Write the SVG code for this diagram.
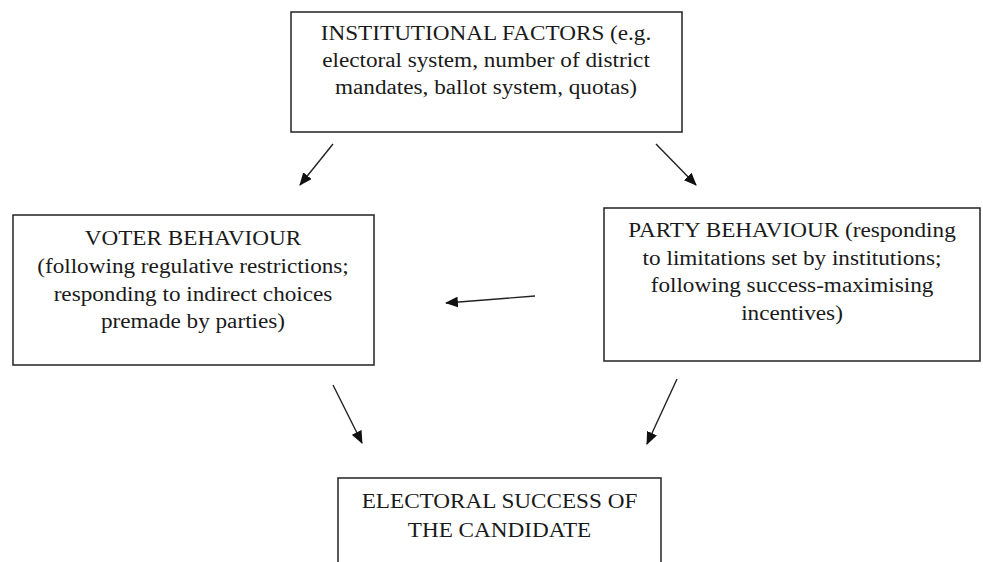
<svg xmlns="http://www.w3.org/2000/svg" width="983" height="562" viewBox="0 0 983 562">
<style>
.box{fill:#fff;stroke:#222;stroke-width:1.5}
.t{font-family:"Liberation Serif","Times New Roman",serif;font-size:20px;fill:#1a1a1a;text-anchor:middle}
.c{stroke:#222;stroke-width:1.4;fill:none}
</style>
<defs>
<marker id="ah" viewBox="0 0 12 10" refX="11" refY="5" markerWidth="13" markerHeight="11" markerUnits="userSpaceOnUse" orient="auto">
<path d="M0,0 L12,5 L0,10 z" fill="#111"/>
</marker>
</defs>
<rect width="983" height="562" fill="#fff"/>
<g id="institutional">
<rect class="box" x="291" y="12" width="391" height="120"/>
<g transform="translate(486,0) scale(1.16,1)">
<text class="t" x="0" y="40.5">INSTITUTIONAL FACTORS (e.g.</text>
<text class="t" x="0" y="67.5">electoral system, number of district</text>
<text class="t" x="0" y="94.5">mandates, ballot system, quotas)</text>
</g>
</g>
<g id="voter">
<rect class="box" x="13" y="215" width="361" height="150"/>
<g transform="translate(193,0) scale(1.16,1)">
<text class="t" x="0" y="245">VOTER BEHAVIOUR</text>
<text class="t" x="0" y="273">(following regulative restrictions;</text>
<text class="t" x="0" y="301">responding to indirect choices</text>
<text class="t" x="0" y="328">premade by parties)</text>
</g>
</g>
<g id="party">
<rect class="box" x="604" y="208" width="376" height="153"/>
<g transform="translate(792,0) scale(1.16,1)">
<text class="t" x="0" y="237">PARTY BEHAVIOUR (responding</text>
<text class="t" x="0" y="265">to limitations set by institutions;</text>
<text class="t" x="0" y="292">following success-maximising</text>
<text class="t" x="0" y="320">incentives)</text>
</g>
</g>
<g id="success">
<rect class="box" x="338" y="478" width="323" height="100"/>
<g transform="translate(499.5,0) scale(1.16,1)">
<text class="t" x="0" y="508">ELECTORAL SUCCESS OF</text>
<text class="t" x="0" y="537">THE CANDIDATE</text>
</g>
</g>
<g id="connectors">
<line class="c" x1="333" y1="144" x2="300" y2="185" marker-end="url(#ah)"/>
<line class="c" x1="656" y1="144" x2="696" y2="185" marker-end="url(#ah)"/>
<line class="c" x1="535" y1="296" x2="446" y2="303" marker-end="url(#ah)"/>
<line class="c" x1="333" y1="385" x2="362" y2="443" marker-end="url(#ah)"/>
<line class="c" x1="677" y1="379" x2="647" y2="444" marker-end="url(#ah)"/>
</g>
</svg>
